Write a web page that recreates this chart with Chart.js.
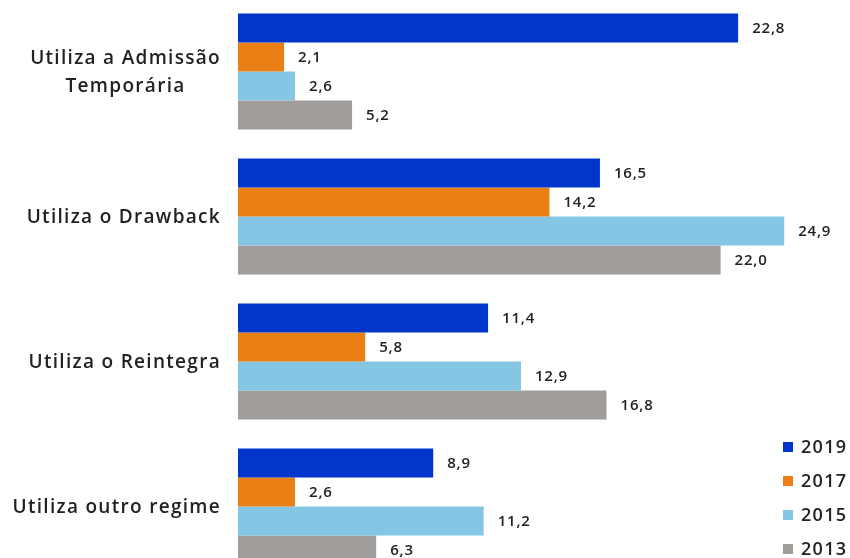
<!DOCTYPE html>
<html>
<head>
<meta charset="utf-8">
<script src="https://cdn.jsdelivr.net/npm/chart.js@4"></script>
<style>
html,body{margin:0;padding:0;background:#fff;overflow:hidden;width:850px;height:558px;}
#wrap{position:absolute;left:0;top:-1px;width:850px;height:580px;}
</style>
</head>
<body>
<div id="wrap"><canvas id="regimes"></canvas></div>
<script>
const categories = [['Utiliza a Admissão','Temporária'], 'Utiliza o Drawback', 'Utiliza o Reintegra', 'Utiliza outro regime'];
const years = ['2019','2017','2015','2013'];
const colors = ['#0036CC','#EA8015','#84C6E4','#A09C9A'];
const v2019 = [22.8, 16.5, 11.4, 8.9];
const v2017 = [2.1, 14.2, 5.8, 2.6];
const v2015 = [2.6, 24.9, 12.9, 11.2];
const v2013 = [5.2, 22.0, 16.8, 6.3];
const series = [v2019, v2017, v2015, v2013];

const FONT = '"Open Sans", Lato, sans-serif';

// value labels after each bar, with decimal comma
const valueLabels = {
  id:'valueLabels',
  afterDatasetsDraw(chart){
    const ctx = chart.ctx;
    ctx.save();
    ctx.font = '600 15px ' + FONT;
    ctx.letterSpacing = '0.8px';
    ctx.fillStyle = '#222';
    ctx.textBaseline = 'middle';
    ctx.textAlign = 'left';
    chart.data.datasets.forEach((ds,i)=>{
      chart.getDatasetMeta(i).data.forEach((bar,j)=>{
        ctx.fillText(ds.data[j].toFixed(1).replace('.',','), bar.x + 14, bar.y + 1);
      });
    });
    ctx.restore();
  }
};

// category names: block right-aligned, lines centred in it
const catLabels = {
  id:'catLabels',
  afterDraw(chart){
    const ctx = chart.ctx, y = chart.scales.y;
    ctx.save();
    ctx.font = '600 19px ' + FONT;
    ctx.letterSpacing = '1.3px';
    ctx.fillStyle = '#222';
    ctx.textBaseline = 'middle';
    ctx.textAlign = 'center';
    categories.forEach((c,i)=>{
      const lines = Array.isArray(c) ? c : [c];
      const w = Math.max(...lines.map(l=>ctx.measureText(l).width));
      const cx = 221 - w/2;
      const cy = y.getPixelForValue(i);
      const lh = 28;
      lines.forEach((l,k)=>{
        ctx.fillText(l, cx, cy + 1 + (k - (lines.length-1)/2)*lh);
      });
    });
    ctx.restore();
  }
};

// legend in the lower right corner
const cornerLegend = {
  id:'cornerLegend',
  afterDraw(chart){
    const ctx = chart.ctx;
    ctx.save();
    ctx.font = '600 18px ' + FONT;
    ctx.letterSpacing = '1.3px';
    ctx.textBaseline = 'middle';
    ctx.textAlign = 'left';
    chart.data.datasets.forEach((ds,i)=>{
      const cy = 448 + i*34;
      ctx.fillStyle = ds.backgroundColor;
      ctx.fillRect(783, cy - 5, 10, 10);
      ctx.fillStyle = '#222';
      ctx.fillText(ds.label, 801, cy + 1);
    });
    ctx.restore();
  }
};

new Chart(document.getElementById('regimes'), {
  type:'bar',
  data:{
    labels: categories,
    datasets: years.map((y,i)=>({
      label: y,
      data: series[i],
      backgroundColor: colors[i],
      borderWidth: 0,
      categoryPercentage: 0.8,
      barPercentage: 1
    }))
  },
  options:{
    indexAxis:'y',
    responsive:true,
    maintainAspectRatio:false,
    animation:false,
    layout:{padding:0},
    plugins:{legend:{display:false}, tooltip:{enabled:false}},
    scales:{
      x:{display:false, min:0, max:27.9},
      y:{
        grid:{display:false},
        border:{display:false},
        ticks:{display:false},
        afterFit(scale){ scale.width = 238; }
      }
    }
  },
  plugins:[valueLabels, catLabels, cornerLegend]
});
</script>
</body>
</html>
